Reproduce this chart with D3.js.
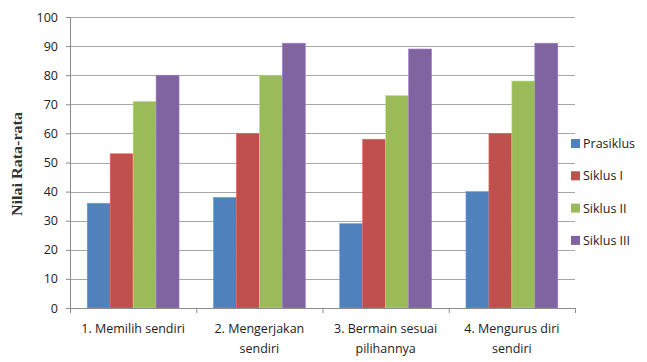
<!DOCTYPE html>
<html>
<head>
<meta charset="utf-8">
<script src="https://cdn.jsdelivr.net/npm/d3@7"></script>
<style>
  html, body { margin: 0; padding: 0; background: #fff; }
  svg { display: block; }
</style>
</head>
<body>
<div id="chart"></div>
<script>
// Rata-rata nilai kemandirian per aspek, tiap siklus
const categories = [
  ["1. Memilih sendiri"],
  ["2. Mengerjakan", "sendiri"],
  ["3. Bermain sesuai", "pilihannya"],
  ["4. Mengurus diri", "sendiri"]
];
const seriesNames = ["Prasiklus", "Siklus I", "Siklus II", "Siklus III"];
const prasiklus = [36, 38, 29, 40];
const siklusI   = [53, 60, 58, 60];
const siklusII  = [71, 80, 73, 78];
const siklusIII = [80, 91, 89, 91];
const yTicks = [0, 10, 20, 30, 40, 50, 60, 70, 80, 90, 100];
const colors = ["#4F81BD", "#C0504D", "#9BBB59", "#8064A2"];

const seriesValues = [prasiklus, siklusI, siklusII, siklusIII];

const W = 647, H = 362;
const margin = { left: 70, right: 72, top: 17, bottom: 54 };
const innerW = W - margin.left - margin.right;
const innerH = H - margin.top - margin.bottom;

const svg = d3.select("#chart").append("svg")
  .attr("width", W).attr("height", H);

const g = svg.append("g").attr("transform", `translate(${margin.left},${margin.top})`);

const x0 = d3.scaleBand().domain(d3.range(categories.length)).range([0, innerW]).paddingInner(0).paddingOuter(0);
// Gap of 150% of one bar width between clusters
const barW = x0.bandwidth() / (seriesNames.length + 1.5);
const x1 = d3.scaleBand().domain(d3.range(seriesNames.length))
  .range([barW * 0.75, barW * 0.75 + barW * seriesNames.length]).padding(0);
const y = d3.scaleLinear().domain([0, 100]).range([innerH, 0]);

const fontSans = "'Open Sans', 'DejaVu Sans', sans-serif";

// Gridlines
g.append("g").selectAll("line").data(yTicks.filter(t => t > 0)).join("line")
  .attr("x1", 0).attr("x2", innerW)
  .attr("y1", d => Math.round(y(d)) + 0.5).attr("y2", d => Math.round(y(d)) + 0.5)
  .attr("stroke", "#a6a6a6").attr("stroke-width", 1.2);

// Bars
const groups = g.append("g").selectAll("g").data(categories).join("g")
  .attr("transform", (d, i) => `translate(${x0(i)},0)`);
groups.selectAll("rect")
  .data((d, i) => seriesValues.map((vals, s) => ({ s, v: vals[i] })))
  .join("rect")
  .attr("x", d => x1(d.s))
  .attr("width", x1.bandwidth())
  .attr("y", d => y(d.v))
  .attr("height", d => innerH - y(d.v))
  .attr("fill", d => colors[d.s])
  .attr("stroke", d => d3.color(colors[d.s]).brighter(0.6))
  .attr("stroke-width", 0.6);

// Y axis
const yAxis = g.append("g")
  .call(d3.axisLeft(y).tickValues(yTicks).tickSize(4).tickPadding(8).tickFormat(d3.format("d")));
yAxis.select(".domain").attr("stroke", "#8c8c8c").attr("d", `M0.5,0V${innerH}`);
yAxis.selectAll(".tick line").attr("stroke", "#8c8c8c");
yAxis.selectAll("text").attr("font-family", fontSans).attr("font-size", 12.5).attr("fill", "#222");

// X axis with ticks at cluster boundaries
const xAxis = g.append("g").attr("transform", `translate(0,${innerH})`);
xAxis.append("line").attr("x1", 0).attr("x2", innerW).attr("y1", 0.5).attr("y2", 0.5)
  .attr("stroke", "#8c8c8c");
xAxis.selectAll("line.tk").data(d3.range(categories.length + 1)).join("line")
  .attr("class", "tk")
  .attr("x1", i => (i < categories.length ? x0(i) : innerW) + 0.5)
  .attr("x2", i => (i < categories.length ? x0(i) : innerW) + 0.5)
  .attr("y1", 0).attr("y2", 5).attr("stroke", "#8c8c8c");
xAxis.selectAll("text").data(categories).join("text")
  .attr("x", (d, i) => x0(i) + x0.bandwidth() / 2)
  .attr("y", 0)
  .attr("text-anchor", "middle")
  .attr("font-family", fontSans).attr("font-size", 12.5).attr("fill", "#222")
  .selectAll("tspan").data(d => d).join("tspan")
  .attr("x", function () { return d3.select(this.parentNode).attr("x"); })
  .attr("y", (d, j) => 25 + j * 20)
  .text(d => d);

// Y axis title
svg.append("text")
  .attr("transform", `translate(22,164) rotate(-90)`)
  .attr("text-anchor", "middle")
  .attr("font-family", "'Liberation Serif', 'DejaVu Serif', serif")
  .attr("font-size", 15).attr("font-weight", "bold").attr("fill", "#333")
  .attr("textLength", 104).attr("lengthAdjust", "spacingAndGlyphs")
  .text("Nilai Rata-rata");

// Legend
const legend = svg.append("g").attr("transform", "translate(571,139)");
const item = legend.selectAll("g").data(seriesNames).join("g")
  .attr("transform", (d, i) => `translate(0,${i * 32.3})`);
item.append("rect").attr("width", 9).attr("height", 9)
  .attr("fill", (d, i) => colors[i]);
item.append("text").attr("x", 12).attr("y", 9)
  .attr("font-family", fontSans).attr("font-size", 12.5).attr("fill", "#222")
  .text(d => d);
</script>
</body>
</html>
